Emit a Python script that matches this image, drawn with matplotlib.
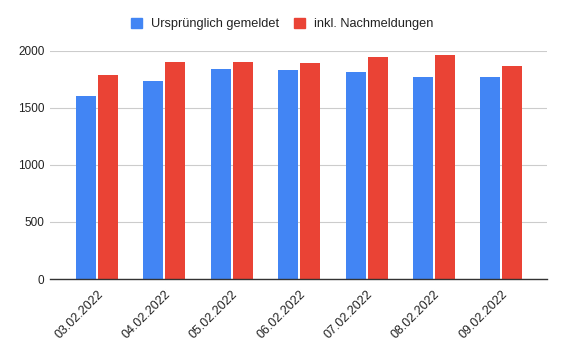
import matplotlib
matplotlib.use("Agg")
import matplotlib.pyplot as plt
import numpy as np
from matplotlib.patches import Rectangle

dates = ["03.02.2022", "04.02.2022", "05.02.2022", "06.02.2022",
         "07.02.2022", "08.02.2022", "09.02.2022"]
urspruenglich = [1600, 1732, 1837, 1829, 1811, 1767, 1767]
nachmeldungen = [1785, 1899, 1899, 1890, 1942, 1960, 1864]
yticks = [0, 500, 1000, 1500, 2000]
series_names = ["Ursprünglich gemeldet", "inkl. Nachmeldungen"]

plt.rcParams['font.family'] = ['Liberation Sans', 'DejaVu Sans']

blue = "#4285F4"
red = "#EA4335"

fig = plt.figure(figsize=(5.64, 3.52), dpi=100)
ax = fig.add_axes([50/564, 1-279/352, (547-50)/564, (279-50.5)/352])

x = np.arange(len(dates))
w = 0.297
gap = 0.015
ax.bar(x - w/2 - gap, urspruenglich, width=w, color=blue, zorder=3)
ax.bar(x + w/2 + gap, nachmeldungen, width=w, color=red, zorder=3)

ax.set_xlim(-0.70, 6.68)
ax.set_ylim(0, 2000)
ax.set_yticks(yticks)
ax.set_yticklabels([str(v) for v in yticks], fontsize=8.5, color="#222222")
ax.set_xticks(x)
ax.set_xticklabels(dates, rotation=45, ha="right", rotation_mode="anchor",
                   fontsize=9, color="#222222")
ax.tick_params(axis="both", length=0)
ax.tick_params(axis="y", pad=4)
ax.tick_params(axis="x", pad=7)
ax.grid(axis="y", color="#cccccc", linewidth=0.8, zorder=0)
for s in ["top", "right", "left"]:
    ax.spines[s].set_visible(False)
ax.spines["bottom"].set_color("#333333")
ax.spines["bottom"].set_linewidth(1.0)
ax.spines["bottom"].set_zorder(4)

handles = [Rectangle((0, 0), 1, 1, color=blue), Rectangle((0, 0), 1, 1, color=red)]
leg = fig.legend(handles, series_names, loc="center", bbox_to_anchor=(282/564, 1-24/352),
                 ncol=2, frameon=False, fontsize=9.2, handlelength=0.85, handleheight=0.85,
                 handletextpad=0.7, columnspacing=1.2, labelcolor="#222222")

fig.savefig("out.png", dpi=100)
